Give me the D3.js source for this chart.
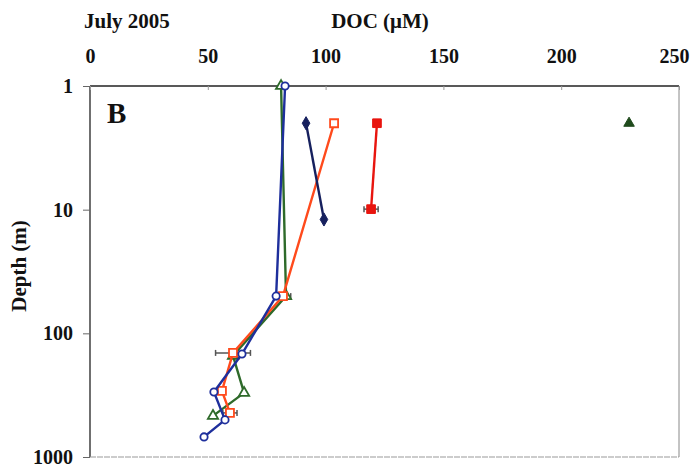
<!DOCTYPE html>
<html lang="en">

<head>
    <meta charset="utf-8">
    <title>DOC profile July 2005</title>
    <script type="text/javascript" src="https://cdn.jsdelivr.net/npm/d3@7"></script>
    <style type="text/css">
        body { margin: 0; background: white; }
        text { font-family: "Liberation Serif", "Times New Roman", serif; font-weight: bold; }
    </style>
</head>

<body>
    <script type="text/javascript">

    var w = 691
    var h = 473

    // tick labels
    var xTicks = [0, 50, 100, 150, 200, 250]
    var yTicks = [1, 10, 100, 1000]

    // series values (DOC uM, depth m)
    var navyDiamondDOC = [91.7, 99.3]
    var navyDiamondDepth = [2, 12]

    var orangeOpenDOC = [103.6, 81.9, 60.7, 56.0, 59.4]
    var orangeOpenDepth = [2, 50, 144, 292, 440]
    var orangeOpenErr = [0, 0, 7.4, 0, 3]

    var redFilledDOC = [121.8, 119.3]
    var redFilledDepth = [2, 9.9]
    var redFilledErr = [0, 3]

    var greenFilledDOC = [228.8]
    var greenFilledDepth = [2]

    var greenOpenDOC = [81.1, 83.2, 60.7, 65.4, 52.2]
    var greenOpenDepth = [1, 50, 152, 303, 465]
    var greenOpenErr = [0, 2, 0, 0, 0]

    var blueOpenDOC = [82.8, 79.0, 64.5, 52.6, 57.3, 48.4]
    var blueOpenDepth = [1, 50, 147, 298, 501, 688]

    var pLeft = 90, pRight = 679, pTop = 86, pBottom = 457

    var x = d3.scaleLinear().domain([0, 250]).range([pLeft, pRight])
    var y = d3.scaleLog().domain([1, 1000]).range([pTop, pBottom])

    var svg = d3.select("body")
        .append("svg")
        .attr("width", w)
        .attr("height", h);

    //frame
    svg.append("line").attr("x1", pLeft).attr("x2", pRight).attr("y1", pTop).attr("y2", pTop)
        .attr("stroke", "#222").attr("stroke-width", 1.3)
    svg.append("line").attr("x1", pLeft).attr("x2", pLeft).attr("y1", pTop).attr("y2", pBottom)
        .attr("stroke", "#222").attr("stroke-width", 1.3)
    svg.append("line").attr("x1", pRight).attr("x2", pRight).attr("y1", pTop).attr("y2", pBottom)
        .attr("stroke", "#888").attr("stroke-width", 1)
    svg.append("line").attr("x1", pLeft).attr("x2", pRight).attr("y1", pBottom).attr("y2", pBottom)
        .attr("stroke", "#999").attr("stroke-width", 1).attr("stroke-dasharray", "6,1")

    //top axis
    var xAxis = d3.axisTop(x).tickValues(xTicks).tickSize(-4).tickPadding(23)
    var gx = svg.append("g").attr("transform", "translate(0," + pTop + ")").call(xAxis)
    gx.select(".domain").remove()
    gx.selectAll("line").attr("stroke", "#999")
    gx.selectAll("text").attr("font-size", 20).attr("fill", "#111")
        .style("font-family", "Liberation Serif").style("font-weight", "bold")
    // last label sits a little left so it stays inside the page
    gx.selectAll("text").filter(function(d){ return d === 250; }).attr("dx", -5)

    //left axis
    var yAxis = d3.axisLeft(y).tickValues(yTicks).tickFormat(d3.format("d")).tickSize(7).tickPadding(10)
    var gy = svg.append("g").attr("transform", "translate(" + pLeft + ",0)").call(yAxis)
    gy.select(".domain").remove()
    gy.selectAll("line").attr("stroke", "#666")
    gy.selectAll("text").attr("font-size", 20).attr("fill", "#111")
        .style("font-family", "Liberation Serif").style("font-weight", "bold")

    //titles
    svg.append("text").attr("x", 84).attr("y", 28).attr("font-size", 21).attr("fill", "#111").text("July 2005")
    svg.append("text").attr("x", 380).attr("y", 28).attr("text-anchor", "middle").attr("font-size", 21)
        .attr("fill", "#111").text("DOC (\u03BCM)")
    svg.append("text").attr("transform", "translate(26,266) rotate(-90)").attr("text-anchor", "middle")
        .attr("font-size", 21).attr("fill", "#111").text("Depth (m)")
    svg.append("text").attr("x", 107).attr("y", 123).attr("font-size", 29).attr("fill", "#111").text("B")

    var zip = function(a, b, e){
        return a.map(function(v, i){ return {v: v, d: b[i], e: e ? e[i] : 0}; })
    }

    var line = d3.line()
        .x(function(p){ return x(p.v); })
        .y(function(p){ return y(p.d); })

    var drawSeries = function(pts, color, shape, filled, size, drawLine){
        if (drawLine) {
            svg.append("path").datum(pts).attr("d", line)
                .attr("fill", "none").attr("stroke", color).attr("stroke-width", 2.4)
        }
        //error bars
        var eb = pts.filter(function(p){ return p.e > 0; })
        eb.forEach(function(p){
            var g = svg.append("g").attr("stroke", "#555").attr("stroke-width", 1.5)
            g.append("line").attr("x1", x(p.v - p.e)).attr("x2", x(p.v + p.e))
                .attr("y1", y(p.d)).attr("y2", y(p.d))
            g.append("line").attr("x1", x(p.v - p.e)).attr("x2", x(p.v - p.e))
                .attr("y1", y(p.d) - 3).attr("y2", y(p.d) + 3)
            g.append("line").attr("x1", x(p.v + p.e)).attr("x2", x(p.v + p.e))
                .attr("y1", y(p.d) - 3).attr("y2", y(p.d) + 3)
        })
        svg.selectAll(null)
            .data(pts)
            .enter()
            .append("path")
            .attr("transform", function(p){ return "translate(" + x(p.v) + "," + y(p.d) + ")"; })
            .attr("d", d3.symbol().type(shape).size(size))
            .attr("fill", filled ? color : "white")
            .attr("stroke", color)
            .attr("stroke-width", filled ? 1 : 1.8)
    }

    drawSeries(zip(greenOpenDOC, greenOpenDepth, greenOpenErr), "#2e6a2a", d3.symbolTriangle, false, 45, true)
    drawSeries(zip(orangeOpenDOC, orangeOpenDepth, orangeOpenErr), "#ff4a1c", d3.symbolSquare, false, 64, true)
    drawSeries(zip(blueOpenDOC, blueOpenDepth), "#1e2f9c", d3.symbolCircle, false, 42, true)
    drawSeries(zip(navyDiamondDOC, navyDiamondDepth), "#16205e", d3.symbolDiamond, true, 50, true)
    drawSeries(zip(redFilledDOC, redFilledDepth, redFilledErr), "#e8150f", d3.symbolSquare, true, 75, true)
    drawSeries(zip(greenFilledDOC, greenFilledDepth), "#1f4a1c", d3.symbolTriangle, true, 48, false)

    </script>
</body>

</html>
